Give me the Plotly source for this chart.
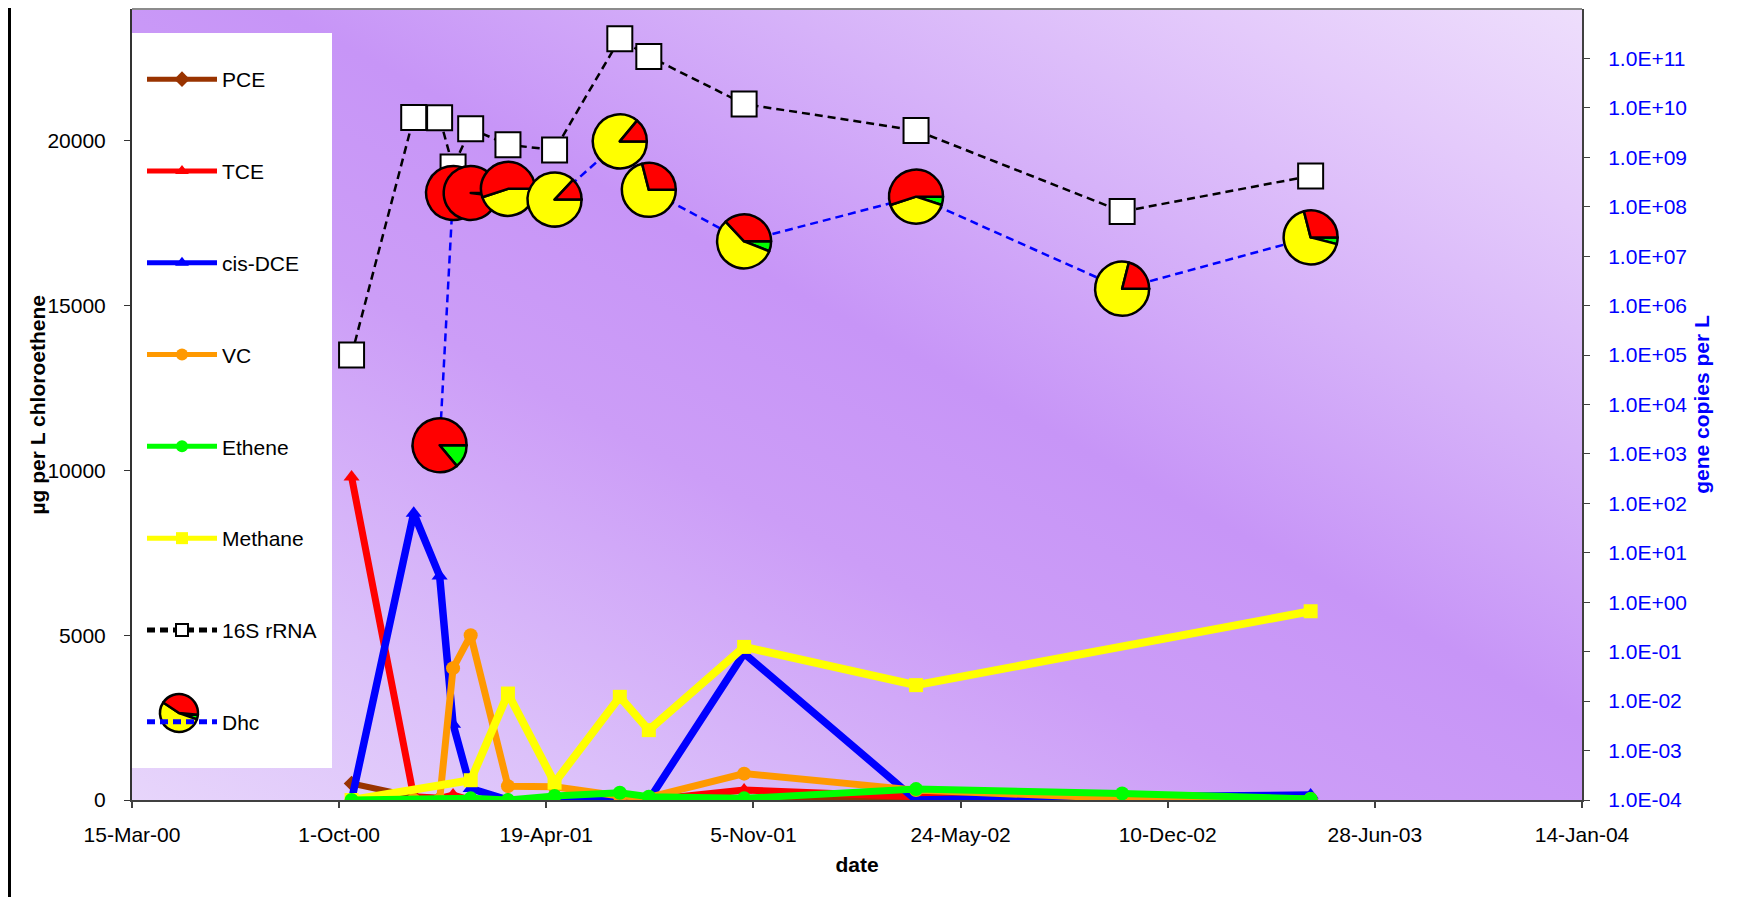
import base64
import math
from datetime import datetime
import plotly.graph_objects as go

# ---------------- data ----------------
sample_dates = ["2000-10-13", "2000-12-12", "2001-01-06", "2001-01-19", "2001-02-05",
                "2001-03-13", "2001-04-27", "2001-06-29", "2001-07-27", "2001-10-27",
                "2002-04-11", "2002-10-27", "2003-04-27"]
pce = [500, 100, 50, 50, 0, 0, 0, 0, 0, 0, 100, 0, 0]
tce = [9800, 100, 50, 150, 0, 0, 0, 0, 0, 300, 100, 0, 0]
cis_dce = [0, 8700, 6800, 2300, 350, 0, 0, 0, 0, 4450, 0, 100, 150]
vc = [0, 0, 0, 4000, 5000, 420, 400, 120, 80, 800, 300, 50, 30]
ethene = [0, None, None, None, 50, 0, 120, 220, 100, 50, 330, 200, 30]
methane = [0, None, None, None, 600, 3230, 525, 3130, 2120, 4645, 3485, None, 5727]
rrna_16s = [1.0e5, 6.4e9, 6.3e9, 6.4e8, 3.8e9, 1.8e9, 1.4e9, 2.5e11, 1.1e11,
            1.2e10, 3.5e9, 8.0e7, 4.2e8]
dhc = [None, None, 1.5e3, 1.9e8, 1.9e8, 2.3e8, 1.4e8, 2.1e9, 2.2e8, 2.0e7,
       1.6e8, 2.2e6, 2.4e7]
# pie composition of each Dhc point (percent)
dhc_red = [None, None, 86, 85, 98, 55, 13, 14, 29, 37, 55, 21, 29]
dhc_yellow = [None, None, 0, 0, 0, 45, 87, 86, 71, 57, 40, 79, 67]
dhc_green = [None, None, 14, 15, 2, 0, 0, 0, 0, 6, 5, 0, 4]
legend_pie = [4, 54, 42]  # green, yellow, red

x_tick_dates = ["2000-03-15", "2000-10-01", "2001-04-19", "2001-11-05", "2002-05-24",
                "2002-12-10", "2003-06-28", "2004-01-14"]
x_tick_labels = ["15-Mar-00", "1-Oct-00", "19-Apr-01", "5-Nov-01", "24-May-02",
                 "10-Dec-02", "28-Jun-03", "14-Jan-04"]
y_left_ticks = [0, 5000, 10000, 15000, 20000]
y_right_exponents = list(range(-4, 12))

# ---------------- layout constants ----------------
W, H = 1751, 889
ML, MR, MT, MB = 124, 177, 1, 97
PW, PH = W - ML - MR, H - MT - MB
X_MIN, X_MAX = "2000-03-15", "2004-01-14"
Y2_LOG_MIN, Y2_LOG_MAX = -4, 12
FONT = "Liberation Sans, Arial, sans-serif"

fig = go.Figure()

def line_trace(name, y, color, symbol, msize, width, rank, yaxis="y", dash=None,
               mfill=None, mline=None):
    marker = dict(symbol=symbol, size=msize, color=mfill or color)
    if mline:
        marker["line"] = mline
    return go.Scatter(
        x=sample_dates, y=y, name=name, mode="lines+markers", yaxis=yaxis,
        line=dict(color=color, width=width, dash=dash), marker=marker,
        connectgaps=True, legendgroup=name, legendrank=rank,
    )

fig.add_trace(line_trace("PCE", pce, "#993300", "diamond", 12, 6, 1))
fig.add_trace(line_trace("TCE", tce, "#FF0000", "triangle-up", 14, 7, 2))
fig.add_trace(line_trace("cis-DCE", cis_dce, "#0000FF", "triangle-up", 14, 7.5, 3))
fig.add_trace(line_trace("VC", vc, "#FF9900", "circle", 14, 7, 4))
fig.add_trace(line_trace("Methane", methane, "#FFFF00", "square", 14, 8, 6))
fig.add_trace(line_trace("Ethene", ethene, "#00FF00", "circle", 14, 7, 5))
fig.add_trace(line_trace("16S rRNA", rrna_16s, "#000000", "square", 25, 2.5, 7, yaxis="y2",
                         dash="8px,5px", mfill="#FFFFFF",
                         mline=dict(color="#000000", width=2)))
fig.add_trace(go.Scatter(
    x=sample_dates, y=dhc, name="Dhc", mode="lines", yaxis="y2",
    line=dict(color="#0000FF", width=2.5, dash="8px,5px"), connectgaps=True,
    legendgroup="Dhc", legendrank=8,
))

# ---------------- pies on the Dhc points ----------------
t0 = datetime.fromisoformat(X_MIN)
t1 = datetime.fromisoformat(X_MAX)
span = (t1 - t0).total_seconds()
PIE_D = 54
hx = PIE_D / PW / 2
hy = PIE_D / PH / 2
for d, v, r, yel, g in zip(sample_dates, dhc, dhc_red, dhc_yellow, dhc_green):
    if v is None:
        continue
    xf = (datetime.fromisoformat(d) - t0).total_seconds() / span
    yf = (math.log10(v) - Y2_LOG_MIN) / (Y2_LOG_MAX - Y2_LOG_MIN)
    fig.add_trace(go.Pie(
        values=[g, yel, r], labels=["green", "yellow", "red"], sort=False,
        direction="clockwise", rotation=90, textinfo="none", showlegend=False,
        marker=dict(colors=["#00FF00", "#FFFF00", "#FF0000"],
                    line=dict(color="#000000", width=2.5)),
        domain=dict(x=[xf - hx, xf + hx], y=[yf - hy, yf + hy]),
        hovertemplate=d + "<extra></extra>",
    ))

# legend pie icon for Dhc (figure pixel coordinates)
LP_CX, LP_CY, LP_R = 171, 705, 19
fig.add_trace(go.Pie(
    values=legend_pie, labels=["green", "yellow", "red"], sort=False,
    direction="clockwise", rotation=95, textinfo="none", showlegend=False,
    marker=dict(colors=["#00FF00", "#FFFF00", "#FF0000"],
                line=dict(color="#000000", width=2.5)),
    domain=dict(x=[(LP_CX - LP_R - ML) / PW, (LP_CX + LP_R - ML) / PW],
                y=[(H - MB - LP_CY - LP_R) / PH, (H - MB - LP_CY + LP_R) / PH]),
    hoverinfo="skip",
))

# ---------------- background gradient ----------------
stops = [(0.0, "#E7D5FB"), (0.18, "#DBBFFA"), (0.4, "#CC9DF7"), (0.55, "#C795F7"),
         (0.72, "#D6B2F9"), (0.87, "#E4CAFB"), (1.0, "#EEDEFC")]
svg = ("<svg xmlns='http://www.w3.org/2000/svg' width='100' height='100' "
       "viewBox='0 0 100 100' preserveAspectRatio='none'>"
       "<defs><linearGradient id='g' x1='0' y1='1' x2='1' y2='0'>"
       + "".join("<stop offset='%s' stop-color='%s'/>" % s for s in stops) +
       "</linearGradient></defs>"
       "<rect width='100' height='100' fill='url(#g)'/></svg>")
svg_uri = "data:image/svg+xml;base64," + base64.b64encode(svg.encode()).decode()

def px_x(x):
    return (x - ML) / PW

def px_y(y):
    return (H - MB - y) / PH

fig.update_layout(
    width=W, height=H,
    margin=dict(l=ML, r=MR, t=MT, b=MB, autoexpand=False),
    paper_bgcolor="#FFFFFF", plot_bgcolor="#C99CF7",
    font=dict(family=FONT, size=21, color="#000000"),
    images=[dict(source=svg_uri, xref="paper", yref="paper", x=0, y=1,
                 sizex=1, sizey=1, xanchor="left", yanchor="top",
                 sizing="stretch", layer="below")],
    xaxis=dict(
        type="date", range=[X_MIN, X_MAX], tickvals=x_tick_dates, ticktext=x_tick_labels,
        showgrid=False, zeroline=False, showline=True, linecolor="#404040", linewidth=2,
        ticks="outside", ticklen=6, tickcolor="#404040", tickwidth=1.5,
        ticklabelstandoff=9,
        tickfont=dict(size=21, family=FONT, color="#000000"),
        title=dict(text="<b>date</b>", font=dict(size=21, family=FONT), standoff=12),
    ),
    yaxis=dict(
        range=[0, 24000], tickvals=y_left_ticks, tickformat="d", showgrid=False,
        zeroline=False, showline=True, linecolor="#333333", linewidth=2,
        ticks="outside", ticklen=6, tickcolor="#333333", ticklabelstandoff=14,
        tickfont=dict(size=21, family=FONT, color="#000000"),
    ),
    yaxis2=dict(
        type="log", range=[Y2_LOG_MIN, Y2_LOG_MAX], overlaying="y", side="right",
        tickvals=[10.0 ** e for e in y_right_exponents],
        ticktext=["%.1E" % (10.0 ** e) for e in y_right_exponents],
        showgrid=False, zeroline=False, showline=True, linecolor="#404040", linewidth=2,
        ticks="outside", ticklen=6, tickcolor="#404040", ticklabelstandoff=14,
        tickfont=dict(size=21, family=FONT, color="#0000FF"),
        title=dict(text="<b>gene copies per L</b>",
                   font=dict(size=21, family=FONT, color="#0000FF"), standoff=8),
    ),
    annotations=[
        dict(text="<b>µg per L chloroethene</b>", xref="paper", yref="paper",
             x=px_x(29), y=0.5, xanchor="center", yanchor="middle", textangle=-90,
             showarrow=False, font=dict(size=21, family=FONT, color="#000000")),
    ],
    legend=dict(
        x=10 / PW, y=(PH - 50) / PH, xanchor="left", yanchor="top",
        bgcolor="rgba(0,0,0,0)", borderwidth=0,
        font=dict(size=21, family=FONT, color="#000000"),
        tracegroupgap=61.5, itemsizing="constant", itemwidth=70,
    ),
    shapes=[
        dict(type="rect", xref="paper", yref="paper", x0=0, x1=px_x(324),
             y0=px_y(760), y1=px_y(25),
             fillcolor="#FFFFFF", line=dict(width=0), layer="below"),
        dict(type="line", xref="paper", yref="paper", x0=0, x1=1, y0=1, y1=1,
             line=dict(color="#8C8C8C", width=2)),
        dict(type="line", xref="paper", yref="paper", x0=px_x(1.5), x1=px_x(1.5),
             y0=px_y(H), y1=px_y(0), line=dict(color="#000000", width=3)),
        dict(type="line", xref="paper", yref="paper", x0=px_x(1748), x1=px_x(1748),
             y0=px_y(H), y1=px_y(0), line=dict(color="#000000", width=3)),
    ],
)

fig.write_html("out.html")
